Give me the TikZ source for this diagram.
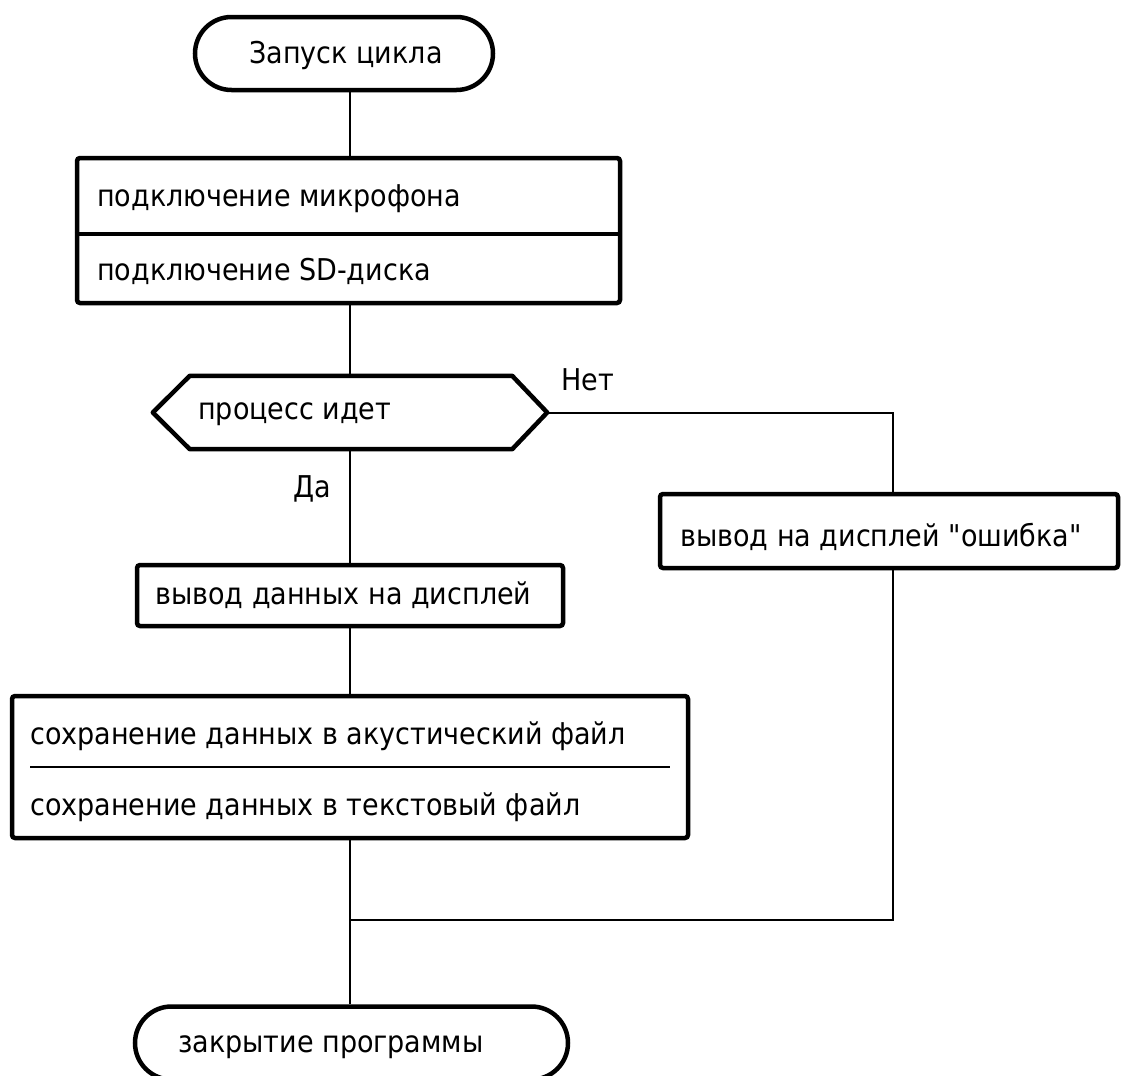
\documentclass[tikz,border=0pt]{standalone}
\usepackage{fontspec}
\newfontfamily\mainf{DejaVu Sans}[FakeStretch=0.9]
\usetikzlibrary{shapes.misc,calc}
\begin{document}
\begin{tikzpicture}[x=1pt,y=-1pt,
  every node/.style={font=\mainf\fontsize{30}{33}\selectfont},
  term/.style={rounded rectangle,draw,line width=4.5pt,inner sep=0pt},
  proc/.style={rectangle,draw,line width=4.5pt,rounded corners=3pt,inner sep=0pt},
  txt/.style={anchor=west,inner sep=0pt},
  conn/.style={line width=2pt},
  lbl/.style={inner sep=0pt}]
\useasboundingbox (0,0) rectangle (1122,1076);
\clip (0,0) rectangle (1122,1076);
\fill[white] (0,0) rectangle (1122,1076);
% nodes
\node[term,minimum width=298pt,minimum height=73pt] (start) at (344,53.5) {};
\node[lbl] (starttxt) at (346,55) {Запуск цикла};
\node[proc,minimum width=543pt,minimum height=145pt] (b1) at (348.5,230.5) {};
\node[txt] (t1a) at (97,199) {подключение микрофона};
\node[txt] (t1b) at (97,271) {подключение SD-диска};
\node[minimum width=394pt,minimum height=73pt,inner sep=0pt] (dec) at (350,412.5) {};
\node[txt] (dectxt) at (198,414) {процесс идет};
\node[proc,minimum width=458pt,minimum height=74pt] (err) at (889,531) {};
\node[txt] (errtxt) at (680,537) {вывод на дисплей "ошибка"};
\node[proc,minimum width=426pt,minimum height=61pt] (b2) at (350,595.5) {};
\node[txt] (b2txt) at (155,595) {вывод данных на дисплей};
\node[proc,minimum width=676pt,minimum height=142pt] (b3) at (350,767) {};
\node[txt] (t3a) at (30,736) {сохранение данных в акустический файл};
\node[txt] (t3b) at (30,807) {сохранение данных в текстовый файл};
\node[term,minimum width=433pt,minimum height=73pt] (end) at (351.5,1043) {};
\node[txt] (endtxt) at (178,1047) {закрытие программы};
\node[lbl] (net) at (588,380) {Нет};
\node[lbl] (da) at (312,489) {Да};
% hexagon
\draw[line width=4.5pt,line join=round]
  (dec.west) -- ($(dec.north west)+(37,0)$) -- ($(dec.north east)+(-35,0)$)
  -- (dec.east) -- ($(dec.south east)+(-35,0)$) -- ($(dec.south west)+(37,0)$) -- cycle;
% dividers
\draw[line width=3.5pt] (b1.west |- 0,234) -- (b1.east |- 0,234);
\draw[line width=2pt] (30,767) -- (670,767);
% connectors
\coordinate (c1) at (350,0);
\draw[conn] (start.south -| c1) -- (b1.north -| c1);
\draw[conn] (b1.south -| c1) -- (dec.north);
\draw[conn] (dec.south) -- (b2.north);
\draw[conn] (b2.south) -- (b3.north);
\coordinate (jn) at (350,920);
\draw[conn] (b3.south) -- (end.north -| jn);
\coordinate (ex) at (893,0);
\draw[conn] (dec.east) -- (dec.east -| ex) -- (err.north -| ex);
\draw[conn] (err.south -| ex) -- (jn -| ex) -- (jn);
\end{tikzpicture}
\end{document}
